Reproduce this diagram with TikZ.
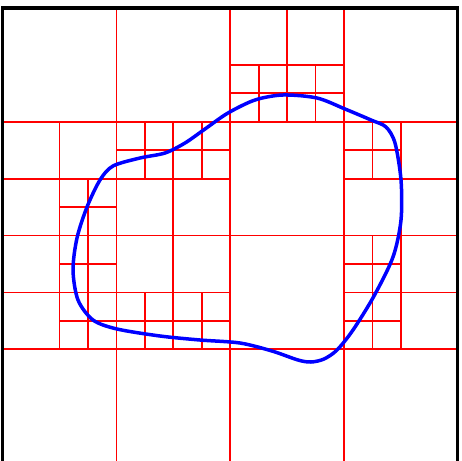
\documentclass[tikz,border=0pt]{standalone}
\begin{document}
\begin{tikzpicture}[x=1pt,y=-1pt,
  gridline/.style={red,line width=1.8pt},
  frame/.style={black,line width=3.5pt},
  curve/.style={blue,line width=3.5pt,line join=round}]
\useasboundingbox (0,0) rectangle (462,460);
\clip (0,0) rectangle (462,460);
\fill[white] (0,0) rectangle (462,460);
\begin{scope}[shift={(2.7,8)},x=28.44pt,y=-28.44pt]
 \coordinate (TL) at (0,0);
 \coordinate (BR) at (16,16);
 % level 1 and 2
 \foreach \k in {4,8,12} {
   \draw[gridline] (\k,0) -- (\k,16);
   \draw[gridline] (0,\k) -- (16,\k);
 }
 % cell (2,0)
 \draw[gridline] (10,0) -- (10,4) (8,2) -- (12,2) (9,2) -- (9,4) (11,2) -- (11,4) (8,3) -- (12,3);
 % cell (0,1)
 \draw[gridline] (2,4) -- (2,8) (0,6) -- (4,6) (3,6) -- (3,8) (2,7) -- (4,7);
 % cell (1,1)
 \draw[gridline] (6,4) -- (6,8) (4,6) -- (8,6) (5,4) -- (5,6) (7,4) -- (7,6) (4,5) -- (8,5);
 % cell (3,1)
 \draw[gridline] (14,4) -- (14,8) (12,6) -- (16,6) (13,4) -- (13,6) (12,5) -- (14,5);
 % cell (0,2)
 \draw[gridline] (2,8) -- (2,12) (0,10) -- (4,10) (3,8) -- (3,12) (2,9) -- (4,9) (2,11) -- (4,11);
 % cell (1,2)
 \draw[gridline] (6,8) -- (6,12) (4,10) -- (8,10) (5,10) -- (5,12) (7,10) -- (7,12) (4,11) -- (8,11);
 % cell (3,2)
 \draw[gridline] (14,8) -- (14,12) (12,10) -- (16,10) (13,8) -- (13,12) (12,9) -- (14,9) (12,11) -- (14,11);
 \draw[frame] (TL) rectangle (BR);
\end{scope}
\draw[curve] plot[smooth cycle,tension=0.5] coordinates {
 (283,95) (317,98) (345,109) (371,120) (386,127) (395,143) (401,180)
 (401,220) (393,257) (374,296) (353,330) (337,350) (324,359) (311,362)
 (298,360) (272,351) (240,343) (200,340) (160,336) (117,329) (93,320)
 (78,300) (73,270) (77,238) (87,207) (100,180) (113,166) (140,158)
 (165,153) (185,143) (205,129) (228,113) (255,100)};
\end{tikzpicture}
\end{document}
